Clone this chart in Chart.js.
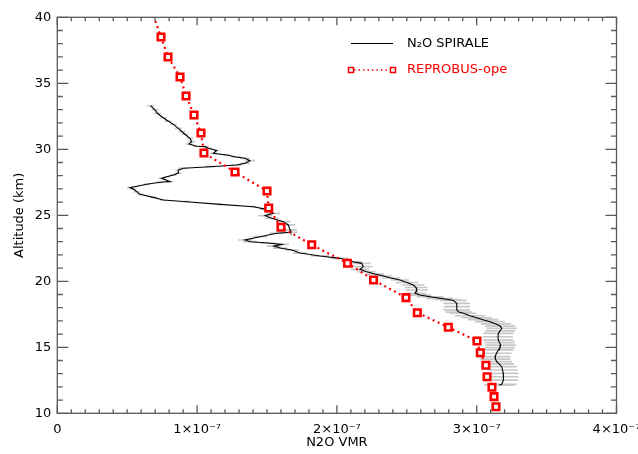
<!DOCTYPE html>
<html><head><meta charset="utf-8">
<script src="https://cdn.jsdelivr.net/npm/chart.js@4.4.1/dist/chart.umd.min.js"></script>
<style>html,body{margin:0;padding:0;background:#fff;}</style>
</head><body>
<canvas id="c" width="638" height="454"></canvas>
<script>
// VMR values are in units of 1e-7
const spiraleAlt = [33.30,32.98,32.73,32.39,32.14,31.89,31.59,31.35,31.14,30.83,30.58,30.40,30.23,30.20,30.08,29.91,29.70,29.57,
  29.42,29.32,29.14,28.94,28.81,28.68,28.56,
  28.43,28.20,28.05,27.92,27.80,27.55,27.50,27.35,27.09,26.99,26.79,26.59,26.36,26.16,26.03,25.83,25.65,
  25.45,25.15,24.97,24.77,24.52,24.27,23.89,23.71,23.64,23.38,23.13,23.00,22.90,22.80,22.67,22.52,22.37,22.14,
  21.92,21.74,21.48,21.36,21.11,20.91,20.73,20.55,20.40,20.25,20.10,
  19.91,19.72,19.53,19.34,19.09,18.96,
  18.83,18.71,18.62,18.55,18.33,18.08,17.83,17.67,17.58,
  17.39,17.24,17.09,16.94,16.77,16.61,16.44,16.24,16.06,15.80,15.55,15.36,15.17,14.98,14.80,14.55,14.29,14.11,13.91,13.74,13.53,13.28,13.03,12.77,12.52,12.20,12.14];
const spiraleVmr = [0.667,0.699,0.715,0.758,0.792,0.830,0.866,0.890,0.913,0.949,0.961,0.942,0.997,1.057,1.080,1.140,1.116,1.212,
  1.278,1.343,1.378,1.343,1.283,1.092,0.901,
  0.866,0.866,0.830,0.783,0.747,0.806,0.735,0.639,0.520,0.544,0.568,0.592,0.687,0.758,0.926,1.164,1.402,
  1.498,1.545,1.486,1.534,1.617,1.652,1.665,1.670,1.569,1.450,1.343,1.378,1.507,1.607,1.550,1.593,1.679,1.736,
  1.879,2.022,2.117,2.177,2.189,2.165,2.213,2.273,2.332,2.387,2.451,
  2.501,2.546,2.566,2.571,2.559,2.594,
  2.666,2.737,2.795,2.833,2.857,2.859,2.857,2.873,2.904,
  2.952,3.000,3.045,3.095,3.138,3.167,3.179,3.167,3.155,3.152,3.155,3.163,3.172,3.167,3.155,3.142,3.131,3.134,3.143,3.160,3.179,3.185,3.190,3.192,3.190,3.179,3.162];
const spiraleErr = [0.025,0.025,0.025,0.025,0.025,0.025,0.025,0.025,0.025,0.025,0.025,0.025,0.025,0.025,0.025,0.025,0.025,0.025,
  0.035,0.035,0.035,0.035,0.035,0.035,0.035,
  0.022,0.022,0.022,0.022,0.022,0.022,0.022,0.022,0.022,0.022,0.022,0.022,0.022,0.022,0.022,0.022,0.022,
  0.05,0.05,0.05,0.05,0.05,0.05,0.05,0.05,0.05,0.05,0.05,0.05,0.05,0.05,0.05,0.05,0.05,0.05,
  0.065,0.065,0.065,0.065,0.065,0.065,0.065,0.065,0.065,0.065,0.065,
  0.08,0.08,0.08,0.08,0.08,0.08,
  0.095,0.095,0.095,0.095,0.095,0.095,0.095,0.095,0.095,
  0.108,0.108,0.108,0.108,0.108,0.108,0.108,0.108,0.108,0.108,0.108,0.108,0.108,0.108,0.108,0.108,0.108,0.108,0.108,0.108,0.108,0.108,0.108,0.108,0.108,0.108,0.108];
const reprobusAlt = [40.5,38.51,36.99,35.48,34.04,32.60,31.23,29.72,28.28,26.84,25.55,24.09,22.77,21.37,20.10,18.76,17.62,16.52,15.48,14.59,13.64,12.77,11.97,11.26,10.50];
const reprobusVmr = [0.674,0.742,0.792,0.878,0.921,0.978,1.028,1.049,1.271,1.500,1.512,1.600,1.820,2.076,2.262,2.494,2.575,2.797,3.002,3.026,3.066,3.074,3.109,3.124,3.138];
const xTickLabels = ['0','1×10⁻⁷','2×10⁻⁷','3×10⁻⁷','4×10⁻⁷'];
const xMin = 0, xMax = 4, yMin = 10, yMax = 40;
const seriesNames = ['N₂O SPIRALE','REPROBUS-ope'];

const spiraleData = spiraleAlt.map((a,i)=>({x:spiraleVmr[i], y:a}));
const errData = [];
spiraleAlt.forEach((a,i)=>{
  errData.push({x:spiraleVmr[i]-spiraleErr[i], y:a});
  errData.push({x:spiraleVmr[i]+spiraleErr[i], y:a});
  errData.push({x:spiraleVmr[i], y:null});
});
const reprobusData = reprobusAlt.map((a,i)=>({x:reprobusVmr[i], y:a}));

const FONT = 'DejaVu Sans';
const AXIS_COLOR = '#5a5a5a';

const framePlugin = {
  id:'frame',
  afterDatasetsDraw(chart){
    const {ctx, chartArea:{left,right,top,bottom}} = chart;
    const xs = chart.scales.x, ys = chart.scales.y;
    ctx.save();
    ctx.strokeStyle = AXIS_COLOR; ctx.lineWidth = 1.3;
    ctx.strokeRect(left, top, right-left, bottom-top);
    ctx.beginPath();
    for (let k=0;k<=40;k++){
      const v = xMin + k*0.1;
      const px = xs.getPixelForValue(v);
      const len = (k%10===0)?8:4;
      ctx.moveTo(px,bottom); ctx.lineTo(px,bottom-len);
      ctx.moveTo(px,top); ctx.lineTo(px,top+len);
    }
    for (let k=0;k<=30;k++){
      const v = yMin + k;
      const py = ys.getPixelForValue(v);
      const len = (k%5===0)?11:5.6;
      ctx.moveTo(left,py); ctx.lineTo(left+len,py);
      ctx.moveTo(right,py); ctx.lineTo(right-len,py);
    }
    ctx.stroke();
    ctx.restore();
  }
};

const legendPlugin = {
  id:'customLegend',
  afterDraw(chart){
    const ctx = chart.ctx;
    ctx.save();
    ctx.font = '13px "'+FONT+'"';
    ctx.textBaseline = 'middle';
    ctx.textAlign = 'left';
    ctx.strokeStyle = '#000'; ctx.lineWidth = 1;
    ctx.beginPath(); ctx.moveTo(351,43.5); ctx.lineTo(393,43.5); ctx.stroke();
    ctx.fillStyle = '#000';
    ctx.fillText(seriesNames[0], 407, 44);
    ctx.strokeStyle = '#ff0000'; ctx.lineWidth = 1.5;
    ctx.setLineDash([1.5,3]);
    ctx.beginPath(); ctx.moveTo(354,70); ctx.lineTo(390,70); ctx.stroke();
    ctx.setLineDash([]);
    ctx.strokeRect(348.5,67.5,5,5);
    ctx.strokeRect(390.5,67.5,5,5);
    ctx.fillStyle = '#ff0000';
    ctx.fillText(seriesNames[1], 407, 70);
    ctx.restore();
  }
};

new Chart(document.getElementById('c'), {
  type:'line',
  data:{
    datasets:[
      {
        label:seriesNames[1], data:reprobusData, order:1,
        borderColor:'#ff0000', borderWidth:2.2, borderDash:[2,3.5],
        pointStyle:'rect', pointRadius:(c)=> (c.raw && c.raw.y>yMax)?0:4.6,
        pointBorderWidth:2.6, pointBorderColor:'#ff0000', pointBackgroundColor:'#ffffff',
        fill:false, tension:0
      },
      {
        label:seriesNames[0], data:spiraleData, order:2,
        borderColor:'#000000', borderWidth:1.1, pointRadius:0, fill:false, tension:0
      },
      {
        label:'err', data:errData, order:3,
        borderColor:'#c8c8c8', borderWidth:1.7, pointRadius:0, fill:false, spanGaps:false, tension:0
      }
    ]
  },
  options:{
    responsive:false, animation:false, events:[],
    layout:{padding:{left:0, top:17.3, right:21.5, bottom:0}},
    plugins:{legend:{display:false}, tooltip:{enabled:false}},
    scales:{
      x:{
        type:'linear', min:xMin, max:xMax,
        grid:{display:false, drawTicks:false}, border:{display:false},
        ticks:{stepSize:1, padding:9, color:'#000', font:{family:FONT, size:13},
          maxRotation:0, autoSkip:false,
          callback:(v)=> xTickLabels[Math.round(v)] },
        title:{display:true, text:'N2O VMR', color:'#000', font:{family:FONT, size:13}, padding:{top:0,bottom:4}},
        afterFit(s){ s.height = 40.7; s.paddingLeft = 0; s.paddingRight = 0; }
      },
      y:{
        type:'linear', min:yMin, max:yMax,
        grid:{display:false, drawTicks:false}, border:{display:false},
        ticks:{stepSize:5, padding:6, color:'#000', font:{family:FONT, size:13}},
        title:{display:true, text:'Altitude (km)', color:'#000', font:{family:FONT, size:13}, padding:{top:12,bottom:0}},
        afterFit(s){ s.width = 57.3; s.paddingTop = 0; s.paddingBottom = 0; }
      }
    }
  },
  plugins:[framePlugin, legendPlugin]
});
</script>
</body></html>
